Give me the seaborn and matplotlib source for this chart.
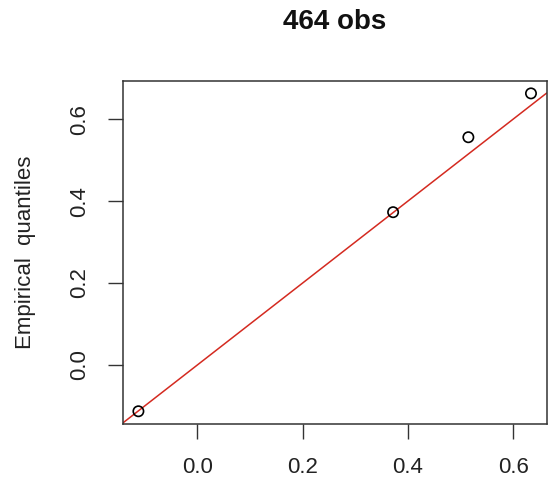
import matplotlib
matplotlib.use("Agg")
import matplotlib.pyplot as plt
import seaborn as sns
import pandas as pd

# Theoretical vs empirical quantiles
theoretical = [-0.112, 0.372, 0.515, 0.634]
empirical = [-0.113, 0.373, 0.556, 0.663]
x_ticks = [0.0, 0.2, 0.4, 0.6]
y_ticks = [0.0, 0.2, 0.4, 0.6]
title = "464 obs"
y_label = "Empirical  quantiles"

df = pd.DataFrame({"theoretical": theoretical, "empirical": empirical})

sns.set_theme(style="white")
plt.rcParams["font.family"] = ["Liberation Sans", "DejaVu Sans"]

fig = plt.figure(figsize=(5.48, 4.86), dpi=100)
ax = fig.add_axes([0.2239, 0.1276, 0.7737, 0.7064])

sns.scatterplot(data=df, x="theoretical", y="empirical", ax=ax,
                marker="o", s=55, facecolor="none", edgecolor="black",
                linewidth=1.2, zorder=3)

# Reference line y = x
ax.axline((0, 0), slope=1, color="#d42a20", linewidth=1.1, zorder=2)

# R-style 4% padding around the data range
def padded(v):
    lo, hi = min(v), max(v)
    p = 0.04 * (hi - lo)
    return lo - p, hi + p

ax.set_xlim(*padded(theoretical))
ax.set_ylim(*padded(empirical))

ax.set_xticks(x_ticks)
ax.set_xticklabels([f"{t:.1f}" for t in x_ticks])
ax.set_yticks(y_ticks)
ax.set_yticklabels([f"{t:.1f}" for t in y_ticks], rotation=90, va="center")

ax.tick_params(axis="both", which="major", direction="out", length=10.5,
               width=1.0, color="#333333", labelsize=16, labelcolor="#222222",
               bottom=True, left=True)
ax.tick_params(axis="x", pad=13)
ax.tick_params(axis="y", pad=13)

for sp in ax.spines.values():
    sp.set_visible(True)
    sp.set_color("#333333")
    sp.set_linewidth(1.1)

ax.set_xlabel("")
ax.set_ylabel("")
fig.text(26 / 548, 0.5 * (0.1276 + 0.834), y_label, rotation=90,
         ha="center", va="center", fontsize=16, color="#222222")

fig.text(334.7 / 548, 1 - 22 / 486, title, ha="center", va="center",
         fontsize=20, fontweight="bold", color="#111111")

fig.savefig("out.png", dpi=100, facecolor="white")
